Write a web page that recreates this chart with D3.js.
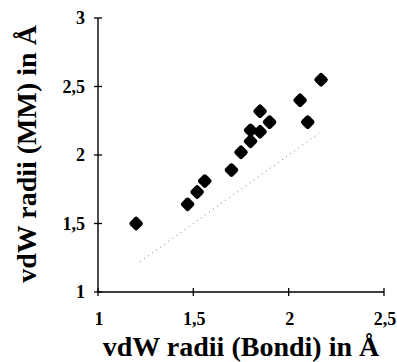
<!DOCTYPE html>
<html><head><meta charset="utf-8">
<script src="https://cdn.jsdelivr.net/npm/d3@7"></script>
<style>body{margin:0;background:#fff}svg{display:block}</style>
</head><body>
<svg id="c" width="397" height="362"></svg>
<script>
const bondi = [1.20,1.47,1.52,1.56,1.70,1.75,1.80,1.80,1.85,1.85,1.90,2.06,2.10,2.17];
const mm    = [1.50,1.64,1.73,1.81,1.89,2.02,2.10,2.18,2.17,2.32,2.24,2.40,2.24,2.55];
const refLine = [1.22, 2.16];
const xTicks = [1, 1.5, 2, 2.5];
const yTicks = [1, 1.5, 2, 2.5, 3];
const xTitle = "vdW radii (Bondi) in Å";
const yTitle = "vdW radii (MM) in Å";

const svg = d3.select("#c");
const x = d3.scaleLinear().domain([1, 2.5]).range([98, 384]);
const y = d3.scaleLinear().domain([1, 3]).range([292, 18]);
const fmt = d => String(d).replace(".", ",");
const font = "'Liberation Serif', 'Times New Roman', serif";

// identity dotted line
svg.append("line")
  .attr("x1", x(refLine[0])).attr("y1", y(refLine[0]))
  .attr("x2", x(refLine[1])).attr("y2", y(refLine[1]))
  .attr("stroke", "#777").attr("stroke-width", 1)
  .attr("stroke-dasharray", "1,4");

// axes lines
svg.append("line").attr("x1", x(1)).attr("x2", x(2.5)).attr("y1", y(1)).attr("y2", y(1))
  .attr("stroke", "#000").attr("stroke-width", 1.4);
svg.append("line").attr("x1", x(1)).attr("x2", x(1)).attr("y1", y(1)).attr("y2", y(3))
  .attr("stroke", "#000").attr("stroke-width", 1.4);

// crossing ticks
svg.selectAll(".xt").data(xTicks).join("line")
  .attr("x1", d => x(d)).attr("x2", d => x(d))
  .attr("y1", y(1) - 4).attr("y2", y(1) + 4)
  .attr("stroke", "#000").attr("stroke-width", 1.3);
svg.selectAll(".yt").data(yTicks).join("line")
  .attr("y1", d => y(d)).attr("y2", d => y(d))
  .attr("x1", x(1) - 4).attr("x2", x(1) + 4)
  .attr("stroke", "#000").attr("stroke-width", 1.3);

svg.selectAll(".xl").data(xTicks).join("text")
  .attr("x", d => x(d) + 1).attr("y", 325)
  .attr("text-anchor", "middle")
  .attr("font-family", font).attr("font-weight", "bold").attr("font-size", 18)
  .text(fmt);
svg.selectAll(".yl").data(yTicks).join("text")
  .attr("x", 85).attr("y", d => y(d) + 6)
  .attr("text-anchor", "end")
  .attr("font-family", font).attr("font-weight", "bold").attr("font-size", 18)
  .text(fmt);

svg.append("text").attr("x", 241).attr("y", 356)
  .attr("text-anchor", "middle")
  .attr("font-family", font).attr("font-weight", "bold").attr("font-size", 28)
  .text(xTitle);
svg.append("text")
  .attr("transform", "translate(36,154) rotate(-90)")
  .attr("text-anchor", "middle")
  .attr("font-family", font).attr("font-weight", "bold").attr("font-size", 28)
  .text(yTitle);

// diamonds
const s = 11;
svg.selectAll(".pt").data(bondi.map((b, i) => [b, mm[i]])).join("rect")
  .attr("x", -s/2).attr("y", -s/2).attr("width", s).attr("height", s)
  .attr("rx", 2.5)
  .attr("transform", d => `translate(${x(d[0])},${y(d[1])}) rotate(45)`)
  .attr("fill", "#000");
</script>
</body></html>
